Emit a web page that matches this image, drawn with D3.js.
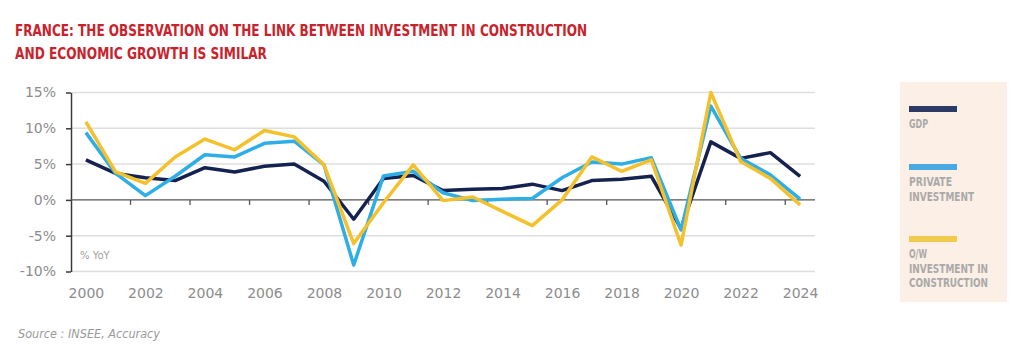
<!DOCTYPE html>
<html>
<head>
<meta charset="utf-8">
<script src="https://cdn.jsdelivr.net/npm/d3@7"></script>
<style>
  body { margin: 0; background: #fff; }
  svg { display: block; }
  .axis text { font-family: "DejaVu Sans", sans-serif; font-size: 14px; fill: #8c8c8c; }
</style>
</head>
<body>
<div id="chart"></div>
<script>
var years = [2000, 2001, 2002, 2003, 2004, 2005, 2006, 2007, 2008, 2009, 2010, 2011, 2012,
             2013, 2014, 2015, 2016, 2017, 2018, 2019, 2020, 2021, 2022, 2023, 2024];

var gdp = [5.6, 3.7, 3.1, 2.7, 4.5, 3.9, 4.7, 5.0, 2.6, -2.7, 3.0, 3.4, 1.3,
           1.5, 1.6, 2.2, 1.3, 2.7, 2.9, 3.3, -4.0, 8.1, 5.8, 6.6, 3.3];

var privateInvestment = [9.4, 3.7, 0.6, 3.3, 6.3, 6.0, 7.9, 8.2, 4.9, -9.1, 3.35, 4.0, 1.0,
                         -0.1, 0.1, 0.2, 3.1, 5.3, 5.0, 5.9, -4.2, 13.1, 5.8, 3.5, 0.1];

var construction = [10.9, 3.9, 2.3, 6.0, 8.5, 7.0, 9.7, 8.8, 4.9, -6.1, -0.4, 4.9, -0.1,
                    0.4, -1.6, -3.6, 0.0, 6.0, 4.0, 5.6, -6.3, 15.0, 5.35, 3.0, -0.7];

var yTicks = [-10, -5, 0, 5, 10, 15];
var xLabels = [2000, 2002, 2004, 2006, 2008, 2010, 2012, 2014, 2016, 2018, 2020, 2022, 2024];

var series = [
  {name: "GDP", lines: ["GDP"], values: gdp, color: "#15224f", swatch: "#2c3a68"},
  {name: "Private investment", lines: ["PRIVATE", "INVESTMENT"], values: privateInvestment, color: "#2eaee6", swatch: "#4ba9e2"},
  {name: "O/W investment in construction", lines: ["O/W", "INVESTMENT IN", "CONSTRUCTION"], values: construction, color: "#f4c02c", swatch: "#f2ca4e"}
];

var width = 1024, height = 364;
var plot = {left: 71, right: 815, top: 92.5, bottom: 271.5};

var svg = d3.select("#chart").append("svg")
    .attr("width", width)
    .attr("height", height);

// title
var titleFont = '"Liberation Sans Narrow", "DejaVu Sans Condensed", "DejaVu Sans", sans-serif';
var title = svg.append("g")
    .attr("font-family", titleFont)
    .attr("font-weight", "bold")
    .attr("font-stretch", "condensed")
    .attr("font-size", 16.5)
    .attr("fill", "#c8232c");
title.append("text").attr("x", 15).attr("y", 36)
    .attr("textLength", 572).attr("lengthAdjust", "spacingAndGlyphs")
    .text("FRANCE: THE OBSERVATION ON THE LINK BETWEEN INVESTMENT IN CONSTRUCTION");
title.append("text").attr("x", 15).attr("y", 59)
    .attr("textLength", 252).attr("lengthAdjust", "spacingAndGlyphs")
    .text("AND ECONOMIC GROWTH IS SIMILAR");

// scales
var x = d3.scalePoint()
    .domain(years)
    .range([plot.left, plot.right])
    .padding(0.5);

var y = d3.scaleLinear()
    .domain([-10, 15])
    .range([plot.bottom, plot.top]);

// gridlines
svg.append("g")
  .selectAll("line")
  .data(yTicks.filter(function(d) { return d !== 0; }))
  .join("line")
    .attr("x1", plot.left)
    .attr("x2", plot.right)
    .attr("y1", function(d) { return y(d); })
    .attr("y2", function(d) { return y(d); })
    .attr("stroke", "#dedede")
    .attr("stroke-width", 1.5);

// y axis
var yAxis = svg.append("g")
    .attr("class", "axis")
    .attr("transform", "translate(" + plot.left + ",0)")
    .call(d3.axisLeft(y)
      .tickValues(yTicks)
      .tickSize(5)
      .tickSizeOuter(0)
      .tickPadding(10)
      .tickFormat(function(d) { return d + "%"; }));
yAxis.select(".domain").attr("stroke", "#3a3a3a").attr("stroke-width", 1.5);
yAxis.selectAll(".tick line").attr("stroke", "#3a3a3a").attr("stroke-width", 1.5);

// zero line
svg.append("line")
    .attr("x1", plot.left)
    .attr("x2", plot.right)
    .attr("y1", y(0))
    .attr("y2", y(0))
    .attr("stroke", "#555")
    .attr("stroke-width", 1.3);

// small ticks on the zero line, between every second year
var step = x.step();
svg.append("g")
  .selectAll("line")
  .data(years.filter(function(d) { return d % 2 === 1; }))
  .join("line")
    .attr("x1", function(d) { return x(d) + step / 2; })
    .attr("x2", function(d) { return x(d) + step / 2; })
    .attr("y1", y(0))
    .attr("y2", y(0) + 5)
    .attr("stroke", "#555")
    .attr("stroke-width", 1.3);

// x labels
var xAxis = svg.append("g")
    .attr("class", "axis")
    .attr("transform", "translate(0," + plot.bottom + ")")
    .call(d3.axisBottom(x)
      .tickValues(xLabels)
      .tickSize(0)
      .tickPadding(17)
      .tickFormat(d3.format("d")));
xAxis.select(".domain").remove();

// unit label
svg.append("text")
    .attr("x", 80)
    .attr("y", 259)
    .attr("font-family", "DejaVu Sans, sans-serif")
    .attr("font-size", 10)
    .attr("fill", "#a0a0a0")
    .text("% YoY");

// lines
var line = d3.line()
    .x(function(d, i) { return x(years[i]); })
    .y(function(d) { return y(d); });

svg.append("g")
  .selectAll("path")
  .data(series)
  .join("path")
    .attr("d", function(d) { return line(d.values); })
    .attr("fill", "none")
    .attr("stroke", function(d) { return d.color; })
    .attr("stroke-width", 3.5)
    .attr("stroke-linejoin", "round");

// legend panel
var legend = svg.append("g");
legend.append("rect")
    .attr("x", 900)
    .attr("y", 82)
    .attr("width", 107)
    .attr("height", 220)
    .attr("fill", "#fcefe5");

var legendY = [109, 167, 239];
var legendWidths = {
  "GDP": 19, "PRIVATE": 43, "INVESTMENT": 65,
  "O/W": 18, "INVESTMENT IN": 79, "CONSTRUCTION": 79
};

var item = legend.selectAll("g.item")
  .data(series)
  .join("g")
    .attr("class", "item")
    .attr("transform", function(d, i) { return "translate(909," + legendY[i] + ")"; });

item.append("rect")
    .attr("x", 0)
    .attr("y", -3)
    .attr("width", 48)
    .attr("height", 6)
    .attr("fill", function(d) { return d.swatch; });

item.selectAll("text")
  .data(function(d) { return d.lines; })
  .join("text")
    .attr("x", 0)
    .attr("y", function(d, i) { return 19 + i * 14.5; })
    .attr("font-family", titleFont)
    .attr("font-weight", "bold")
    .attr("font-stretch", "condensed")
    .attr("font-size", 12.5)
    .attr("fill", "#a9a9a9")
    .attr("textLength", function(d) { return legendWidths[d]; })
    .attr("lengthAdjust", "spacingAndGlyphs")
    .text(function(d) { return d; });

// source
svg.append("text")
    .attr("x", 18)
    .attr("y", 338)
    .attr("font-family", titleFont)
    .attr("font-style", "italic")
    .attr("font-stretch", "condensed")
    .attr("font-size", 13)
    .attr("fill", "#9a9a9a")
    .attr("textLength", 142)
    .attr("lengthAdjust", "spacingAndGlyphs")
    .text("Source : INSEE, Accuracy");
</script>
</body>
</html>
